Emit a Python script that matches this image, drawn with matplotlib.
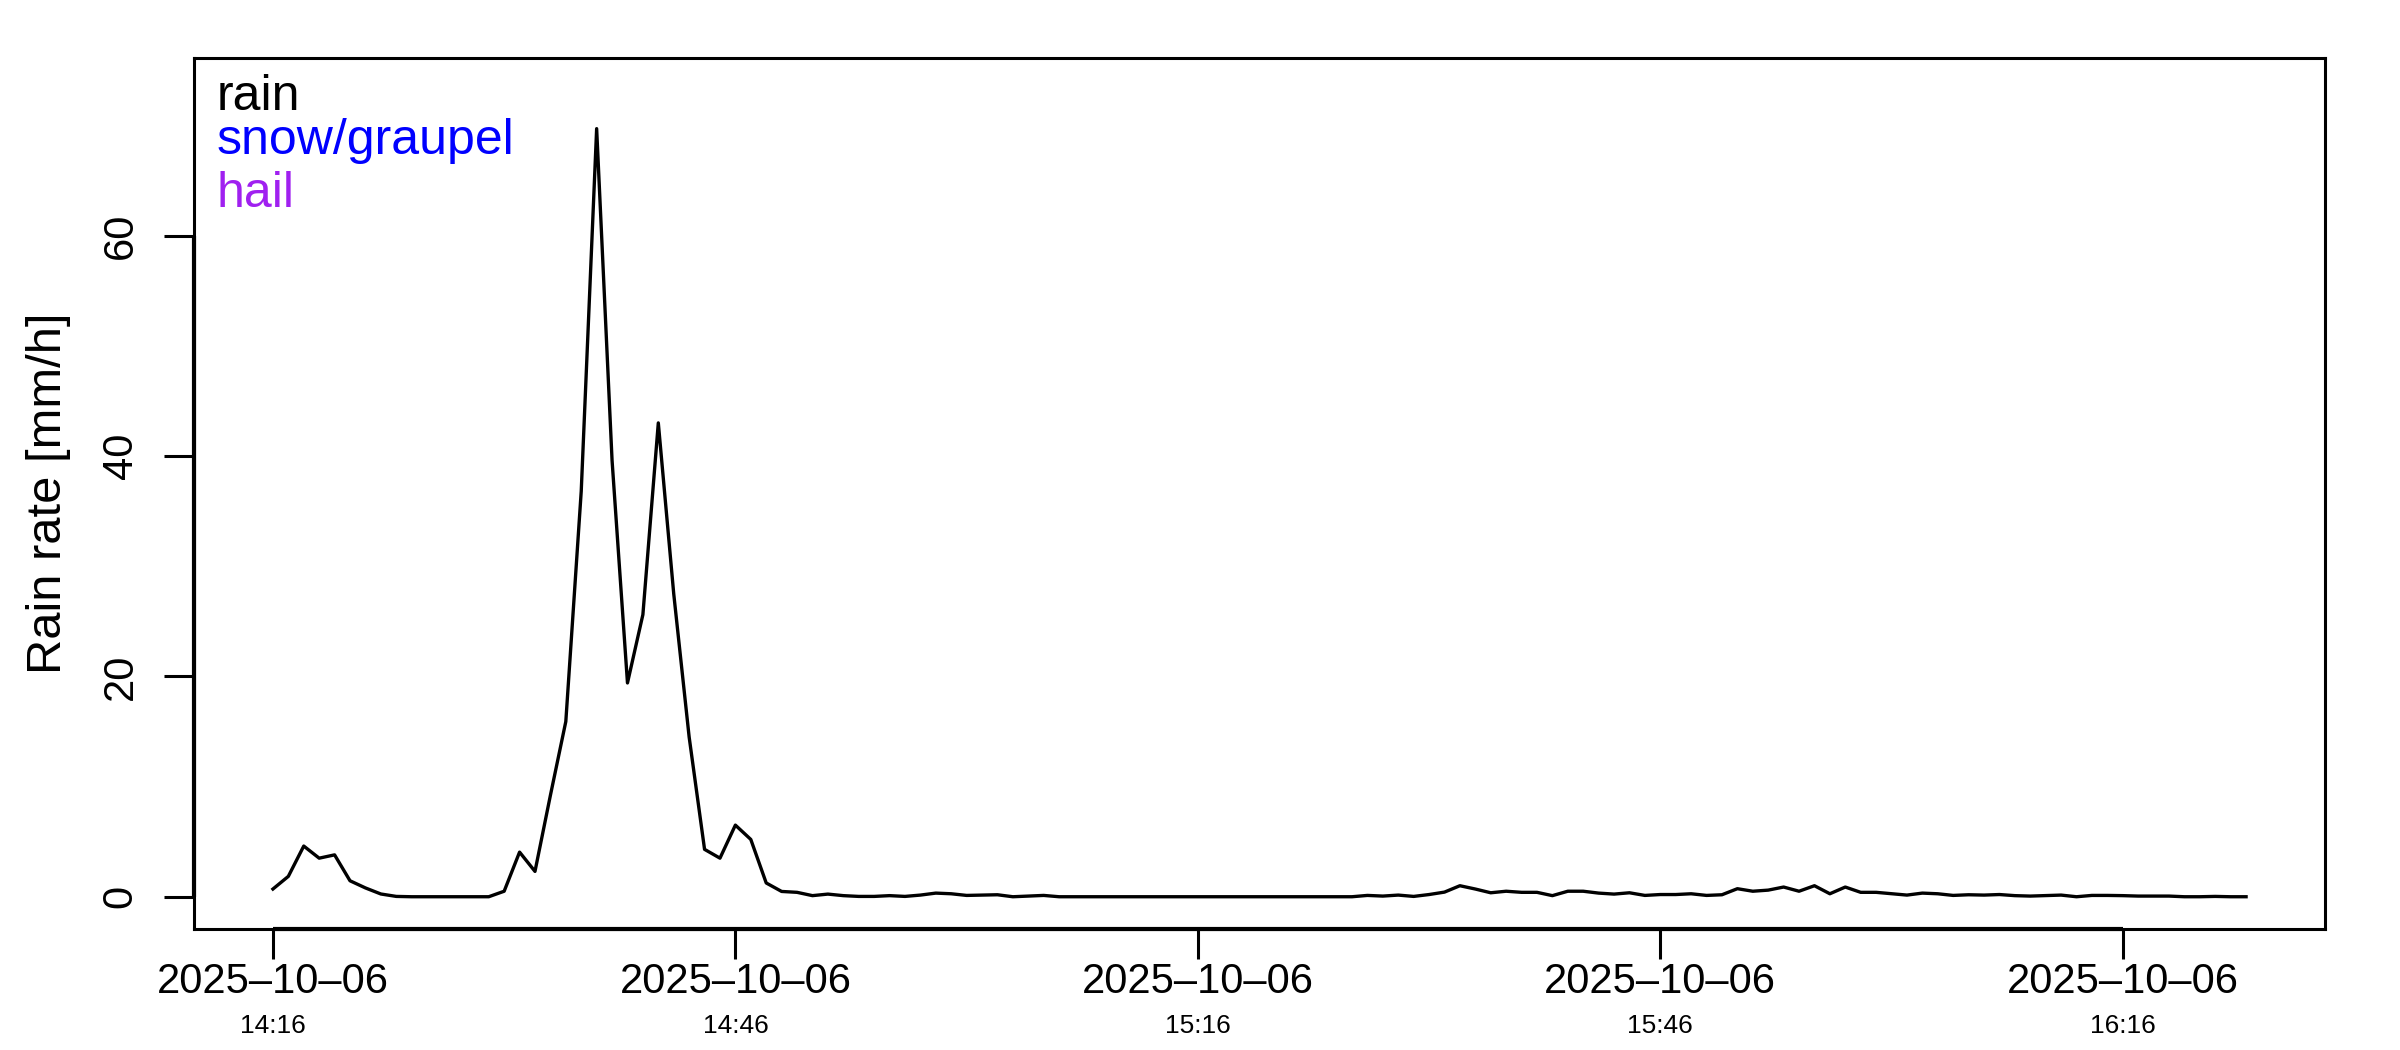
import matplotlib
matplotlib.use("Agg")
import matplotlib.pyplot as plt
import matplotlib.dates as mdates
import matplotlib.transforms as mtrans
import pandas as pd

# ---------------- data ----------------
rain = [0.7, 1.85, 4.6, 3.5, 3.8, 1.45, 0.8, 0.25, 0.03,
        0, 0, 0, 0, 0, 0,
        0.5, 4.05, 2.3, 9.2, 15.9, 36.8, 69.7, 39.6, 19.4, 25.6, 43.0, 27.5,
        14.5, 4.3, 3.5, 6.5, 5.2, 1.25, 0.48, 0.4, 0.1, 0.24, 0.1, 0.03, 0.03,
        0.1, 0.03, 0.15, 0.33, 0.27, 0.12, 0.15, 0.18, 0, 0.06, 0.12,
        0, 0, 0, 0, 0, 0, 0, 0, 0, 0, 0, 0, 0, 0, 0, 0, 0, 0, 0, 0,
        0.12, 0.06, 0.15, 0.03, 0.2, 0.42, 1.0, 0.7, 0.36, 0.5, 0.4, 0.4,
        0.1, 0.5, 0.5, 0.33, 0.24, 0.36, 0.12, 0.2, 0.2, 0.27, 0.12, 0.18,
        0.73, 0.5, 0.6, 0.88, 0.5, 1.0, 0.27, 0.88, 0.4, 0.4, 0.27, 0.15,
        0.33, 0.27, 0.12, 0.18, 0.15, 0.2, 0.1, 0.06, 0.1, 0.15, 0, 0.12,
        0.12, 0.1, 0.06, 0.06, 0.06, 0, 0, 0.03, 0, 0]
start_time = "2025-10-06 14:16"
times = pd.date_range(start_time, periods=len(rain), freq="1min")

tick_times = ["2025-10-06 14:16", "2025-10-06 14:46", "2025-10-06 15:16",
              "2025-10-06 15:46", "2025-10-06 16:16"]
tick_dates = ["2025\u201310\u201306"] * 5
tick_clock = ["14:16", "14:46", "15:16", "15:46", "16:16"]
yticks = [0, 20, 40, 60]
ylabel = "Rain rate [mm/h]"
legend_labels = ["rain", "snow/graupel", "hail"]
legend_colors = ["#000000", "#0000FF", "#A020F0"]

# ---------------- figure ----------------
plt.rcParams['font.family'] = ['Liberation Sans', 'DejaVu Sans']
W, H, DPI = 2400, 1050, 200
fig = plt.figure(figsize=(W / DPI, H / DPI), dpi=DPI)
L, R, T, B = 194, 2325, 58, 929
ax = fig.add_axes([L / W, 1 - B / H, (R - L) / W, (B - T) / H])

x = mdates.date2num(times.to_pydatetime())
ax.plot(x, rain, color="black", lw=1.2, solid_joinstyle="round")

xr = x[-1] - x[0]
xlo, xhi = x[0] - 0.04 * xr, x[-1] + 0.04 * xr
ax.set_xlim(xlo, xhi)
top = max(rain) * 1.05
ylo, yhi = -0.04 * top, 1.04 * top
ax.set_ylim(ylo, yhi)

for s in ax.spines.values():
    s.set_linewidth(1.1)

tnum = mdates.date2num(pd.to_datetime(tick_times).to_pydatetime())
ax.set_xticks(tnum)
ax.set_xticklabels([])
ax.set_yticks(yticks)
ax.set_yticklabels([])
ax.tick_params(axis="both", length=10.8, width=1.1, direction="out")

# R-style axis lines (from first to last tick)
ax.plot([tnum[0], tnum[-1]], [ylo, ylo], color="black", lw=1.5,
        clip_on=False, solid_capstyle="butt")
ax.plot([xlo, xlo], [yticks[0], yticks[-1]], color="black", lw=1.5,
        clip_on=False, solid_capstyle="butt")

def off(dx_pt, dy_pt):
    return mtrans.ScaledTranslation(dx_pt / 72, dy_pt / 72, fig.dpi_scale_trans)

xt = ax.get_xaxis_transform()
for t, d, c in zip(tnum, tick_dates, tick_clock):
    ax.text(t, 0, d, transform=xt + off(0, -23.0), ha="center",
            va="baseline", fontsize=15)
    ax.text(t, 0, c, transform=xt + off(0, -37.5), ha="center",
            va="baseline", fontsize=9.5)

yt = ax.get_yaxis_transform()
for v in yticks:
    ax.text(0, v, str(v), transform=yt + off(-26.4, 0), ha="center",
            va="center", rotation=90, fontsize=15)

ax.text(0, 0.5, ylabel, transform=ax.transAxes + off(-52.2, 0),
        ha="center", va="center", rotation=90, fontsize=17.6)

leg_offsets_px = [52, 96, 149]
for lab, col, dy in zip(legend_labels, legend_colors, leg_offsets_px):
    ax.text(0, 1, lab, transform=ax.transAxes + off(23 * 72 / DPI, -dy * 72 / DPI),
            ha="left", va="baseline", color=col, fontsize=18)

fig.savefig("out.png", dpi=DPI)
